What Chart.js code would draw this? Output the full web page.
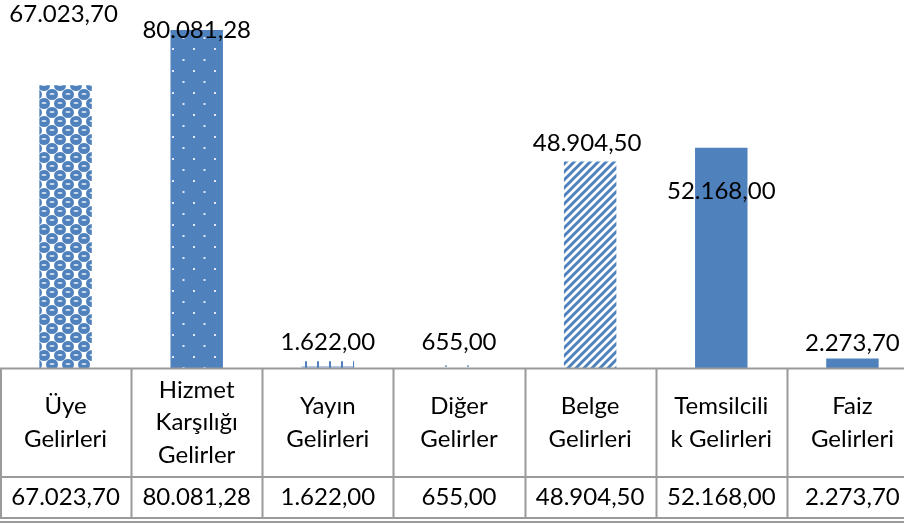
<!DOCTYPE html>
<html>
<head>
<meta charset="utf-8">
<script src="https://cdn.jsdelivr.net/npm/chart.js@4/dist/chart.umd.min.js"></script>
<style>
  html, body { margin: 0; padding: 0; background: #fff; overflow: hidden; }
  #wrap { position: relative; width: 918px; height: 525px; }
</style>
</head>
<body>
<div id="wrap"><canvas id="c"></canvas></div>
<script>
// ---- data ----
const categories = [
  ['Üye', 'Gelirleri'],
  ['Hizmet', 'Karşılığı', 'Gelirler'],
  ['Yayın', 'Gelirleri'],
  ['Diğer', 'Gelirler'],
  ['Belge', 'Gelirleri'],
  ['Temsilcili', 'k Gelirleri'],
  ['Faiz', 'Gelirleri']
];
const values = [67023.70, 80081.28, 1622.00, 655.00, 48904.50, 52168.00, 2273.70];
const valueLabels = ['67.023,70', '80.081,28', '1.622,00', '655,00', '48.904,50', '52.168,00', '2.273,70'];

// ---- styling ----
const BLUE = '#4F81BD';
const FONT = '24px Lato, "Liberation Sans", sans-serif';
const GRID = '#9a9a9a';
// label offsets relative to bar top (dx, dy of text middle)
const labelOffsets = [[-2, -71], [0, 0], [0, -19], [0, -23], [-3, -18], [0, 43], [0, -15]];

function tile(w, h, draw) {
  const c = document.createElement('canvas');
  c.width = w; c.height = h;
  const g = c.getContext('2d');
  draw(g, w, h);
  return document.createElement('canvas').getContext('2d').createPattern(c, 'repeat');
}
const patSphere = tile(16, 18, (g) => {
  g.fillStyle = '#fff'; g.fillRect(0, 0, 16, 18);
  [[4, 4.5], [12, 13.5], [-4, 13.5], [20, 4.5], [4, 22.5], [12, -4.5]].forEach(([x, y]) => {
    g.fillStyle = BLUE;
    g.beginPath(); g.ellipse(x, y, 6, 5.6, 0, 0, Math.PI * 2); g.fill();
  });
  [[4, 4.5], [12, 13.5], [-4, 13.5], [20, 4.5]].forEach(([x, y]) => {
    g.fillStyle = '#d5e1f0';
    g.beginPath(); g.ellipse(x, y - 0.5, 2.6, 1.1, 0, 0, Math.PI * 2); g.fill();
  });
});
const patDots = tile(21, 22, (g) => {
  g.fillStyle = BLUE; g.fillRect(0, 0, 21, 22);
  g.fillStyle = '#dfe8f4';
  g.fillRect(4, 4, 2, 2);
  g.fillRect(14.5, 15, 2, 2);
});
const patVert = tile(12, 8, (g) => {
  g.fillStyle = '#fff'; g.fillRect(0, 0, 12, 8);
  g.fillStyle = '#b4c8e4'; g.fillRect(0, 6, 12, 2);
  g.fillStyle = BLUE; g.fillRect(5, 0, 2, 8);
});
const patSmallDots = tile(22, 8, (g) => {
  g.fillStyle = '#fff'; g.fillRect(0, 0, 22, 8);
  g.fillStyle = '#7fa2d0'; g.fillRect(5, 5, 2, 2);
});
const patDiag = tile(8, 8, (g) => {
  g.fillStyle = '#fff'; g.fillRect(0, 0, 8, 8);
  g.strokeStyle = BLUE; g.lineWidth = 3;
  g.beginPath();
  g.moveTo(-2, 10); g.lineTo(10, -2);
  g.moveTo(-6, 6); g.lineTo(6, -6);
  g.moveTo(2, 14); g.lineTo(14, 2);
  g.stroke();
});
const barFills = [patSphere, patDots, patVert, patSmallDots, patDiag, BLUE, BLUE];

const tablePlugin = {
  id: 'tableAndLabels',
  afterDraw(chart) {
    const ctx = chart.ctx;
    const xs = chart.scales.x;
    const area = chart.chartArea;
    const meta = chart.getDatasetMeta(0);
    const n = categories.length;
    const colW = (area.right - area.left) / n;
    const top = area.bottom + 0.5;
    const mid = 477;
    const bot = 518;
    ctx.save();
    // data labels
    ctx.font = FONT;
    ctx.fillStyle = '#000';
    ctx.textAlign = 'center';
    ctx.textBaseline = 'middle';
    meta.data.forEach((bar, i) => {
      const [dx, dy] = labelOffsets[i];
      ctx.fillText(valueLabels[i], bar.x + dx, bar.y + dy);
    });
    // table lines
    ctx.strokeStyle = GRID;
    ctx.lineWidth = 2;
    ctx.beginPath();
    ctx.moveTo(0, top); ctx.lineTo(chart.width, top);
    ctx.moveTo(0, mid); ctx.lineTo(chart.width, mid);
    ctx.moveTo(0, bot); ctx.lineTo(chart.width, bot);
    ctx.moveTo(0, bot + 4); ctx.lineTo(chart.width, bot + 4);
    ctx.moveTo(1, top); ctx.lineTo(1, bot);
    for (let i = 1; i <= n; i++) {
      const x = Math.round(area.left + colW * i) + 0.5;
      ctx.moveTo(x, top); ctx.lineTo(x, bot);
    }
    ctx.stroke();
    // table text
    ctx.fillStyle = '#000';
    const hc = (top + mid) / 2;
    const lh = 32.5;
    categories.forEach((lines, i) => {
      const cx = xs.getPixelForValue(i);
      const start = hc - (lines.length - 1) * lh / 2;
      lines.forEach((t, k) => ctx.fillText(t, cx, start + k * lh));
      ctx.fillText(valueLabels[i], cx, (mid + bot) / 2);
    });
    ctx.restore();
  }
};

new Chart(document.getElementById('c'), {
  type: 'bar',
  data: {
    labels: categories.map(c => c.join(' ')),
    datasets: [{
      data: values,
      backgroundColor: barFills,
      borderWidth: 0,
      categoryPercentage: 1.0,
      barPercentage: 0.4
    }]
  },
  options: {
    responsive: true,
    maintainAspectRatio: false,
    animation: false,
    layout: { padding: { top: 0, left: 0, right: 0, bottom: 157 } },
    plugins: { legend: { display: false }, tooltip: { enabled: false } },
    scales: {
      x: { display: false },
      y: { display: false, min: 0, max: 87200 }
    }
  },
  plugins: [tablePlugin]
});
</script>
</body>
</html>
